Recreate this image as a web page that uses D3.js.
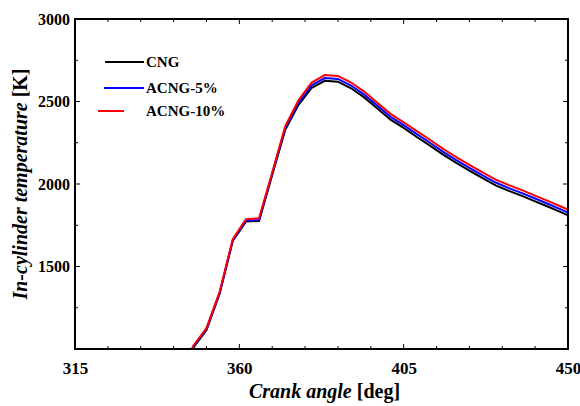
<!DOCTYPE html>
<html>
<head>
<meta charset="utf-8">
<script src="https://cdn.jsdelivr.net/npm/d3@7"></script>
<style>
  html, body { margin: 0; padding: 0; background: #fff; }
  svg text { font-family: "Liberation Serif", "Times New Roman", serif; font-weight: bold; fill: #000; }
</style>
</head>
<body>
<svg id="chart" width="580" height="406"></svg>
<script>
// ---- data ----
const crankAngle = [343.8, 347.4, 351.0, 354.6, 358.2, 361.8, 365.4, 369.0, 372.6, 376.2, 379.8, 383.4, 387.0, 390.6, 394.2, 397.8, 401.4, 405.0, 408.6, 412.2, 415.8, 419.4, 423.0, 426.6, 430.2, 433.8, 437.4, 441.0, 444.6, 448.2, 450.0];
const tempCNG    = [840, 1008, 1115, 1335, 1655, 1772, 1776, 2055, 2330, 2480, 2582, 2625, 2620, 2580, 2525, 2458, 2390, 2340, 2285, 2233, 2178, 2128, 2081, 2035, 1992, 1958, 1928, 1895, 1862, 1828, 1810];
const tempACNG5  = [845, 1014, 1120, 1340, 1660, 1778, 1782, 2062, 2340, 2492, 2598, 2642, 2637, 2597, 2542, 2475, 2407, 2357, 2302, 2250, 2195, 2145, 2098, 2052, 2009, 1975, 1945, 1912, 1879, 1845, 1827];
const tempACNG10 = [850, 1020, 1126, 1346, 1666, 1786, 1792, 2070, 2352, 2507, 2615, 2660, 2655, 2615, 2560, 2492, 2425, 2374, 2320, 2268, 2213, 2163, 2116, 2070, 2027, 1993, 1963, 1930, 1896, 1862, 1845];
const seriesNames = ["CNG", "ACNG-5%", "ACNG-10%"];
const seriesColors = ["#000000", "#0000ff", "#ff0000"];
const xTickValues = [315, 360, 405, 450];
const yTickValues = [1500, 2000, 2500, 3000];

// ---- layout ----
const svg = d3.select("#chart");
const pL = 75, pR = 568, pT = 19, pB = 349;
const x = d3.scaleLinear().domain([315, 450]).range([pL, pR]);
const y = d3.scaleLinear().domain([1000, 3000]).range([pB, pT]);

svg.append("defs").append("clipPath").attr("id", "clip")
  .append("rect").attr("x", pL).attr("y", pT).attr("width", pR - pL).attr("height", pB - pT);

// lines
const series = [tempCNG, tempACNG5, tempACNG10];
const line = d3.line().x((d, i) => x(crankAngle[i])).y(d => y(d));
const g = svg.append("g").attr("clip-path", "url(#clip)");
series.forEach((s, k) => {
  g.append("path").datum(s).attr("d", line)
    .attr("fill", "none").attr("stroke", seriesColors[k]).attr("stroke-width", 2);
});

// ticks (inward on all sides)
const xMinor = d3.range(315, 450.01, 9);
const yMinor = d3.range(1000, 3000.01, 250);
const tickG = svg.append("g").attr("stroke", "#000").attr("stroke-width", 1);
xMinor.forEach(v => {
  const len = (v - 315) % 45 === 0 ? 5 : 3;
  tickG.append("line").attr("x1", x(v)).attr("x2", x(v)).attr("y1", pB).attr("y2", pB - len);
  tickG.append("line").attr("x1", x(v)).attr("x2", x(v)).attr("y1", pT).attr("y2", pT + len);
});
yMinor.forEach(v => {
  const len = v % 500 === 0 ? 5 : 3;
  tickG.append("line").attr("x1", pL).attr("x2", pL + len).attr("y1", y(v)).attr("y2", y(v));
  tickG.append("line").attr("x1", pR).attr("x2", pR - len).attr("y1", y(v)).attr("y2", y(v));
});

// frame
svg.append("rect").attr("x", pL).attr("y", pT).attr("width", pR - pL).attr("height", pB - pT)
  .attr("fill", "none").attr("stroke", "#000").attr("stroke-width", 2);

// tick labels via axis generators (labels only)
const xAxis = d3.axisBottom(x).tickValues(xTickValues).tickSize(0).tickPadding(13).tickFormat(d3.format("d"));
const xa = svg.append("g").attr("transform", `translate(0,${pB})`).call(xAxis);
xa.select(".domain").remove();
xa.selectAll("text").attr("font-size", 17).attr("font-family", "Liberation Serif").attr("font-weight", "bold");

const yAxis = d3.axisLeft(y).tickValues(yTickValues).tickSize(0).tickPadding(5).tickFormat(d3.format("d"));
const ya = svg.append("g").attr("transform", `translate(${pL},0)`).call(yAxis);
ya.select(".domain").remove();
ya.selectAll("text").attr("font-size", 16).attr("font-family", "Liberation Serif").attr("font-weight", "bold");

// axis titles
const xt = svg.append("text").attr("x", (pL + pR) / 2 + 3).attr("y", 398).attr("text-anchor", "middle").attr("font-size", 20);
xt.append("tspan").attr("font-style", "italic").text("Crank angle");
xt.append("tspan").text(" [deg]");

const yt = svg.append("text").attr("transform", `translate(27,${(pT + pB) / 2}) rotate(-90)`).attr("text-anchor", "middle").attr("font-size", 20);
yt.append("tspan").attr("font-style", "italic").text("In-cylinder temperature");
yt.append("tspan").text(" [K]");

// legend
const legend = [
  { name: seriesNames[0], color: seriesColors[0], x1: 105, x2: 144, ly: 62, ty: 67 },
  { name: seriesNames[1], color: seriesColors[1], x1: 104, x2: 144, ly: 88, ty: 93 },
  { name: seriesNames[2], color: seriesColors[2], x1: 98, x2: 124, ly: 111, ty: 116 }
];
legend.forEach(l => {
  svg.append("line").attr("x1", l.x1).attr("x2", l.x2).attr("y1", l.ly).attr("y2", l.ly)
    .attr("stroke", l.color).attr("stroke-width", 2);
  svg.append("text").attr("x", 146).attr("y", l.ty).attr("font-size", 15).text(l.name);
});
</script>
</body>
</html>
